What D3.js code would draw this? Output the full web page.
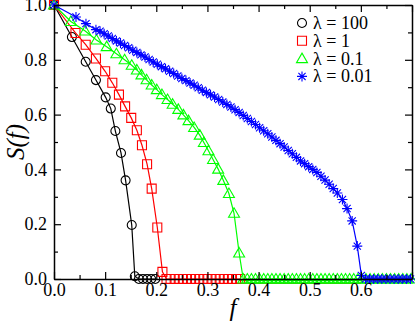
<!DOCTYPE html>
<html>
<head>
<meta charset="utf-8">
<script src="https://cdn.jsdelivr.net/npm/d3@7.9.0/dist/d3.min.js"></script>
<style>
  body { margin: 0; background: #fff; }
</style>
</head>
<body>
<svg id="chart" width="415" height="323"></svg>
<script>
// S(f) for each lambda as [f, S]
const lam100 = [[0, 1], [0.035, 0.883], [0.062, 0.793], [0.082, 0.726], [0.101, 0.663], [0.111, 0.622],
  [0.12, 0.54], [0.131, 0.46], [0.14, 0.36], [0.152, 0.197], [0.158, 0.01],
  [0.166, 0], [0.174, 0], [0.182, 0], [0.19, 0], [0.198, 0]];

const lam1 = [[0, 1], [0.042, 0.898], [0.062, 0.855], [0.082, 0.805], [0.1, 0.758], [0.114, 0.716],
  [0.127, 0.673], [0.139, 0.63], [0.151, 0.588], [0.162, 0.543], [0.172, 0.488], [0.182, 0.419],
  [0.191, 0.33], [0.202, 0.188], [0.212, 0.026],
  [0.22, 0], [0.228, 0], [0.236, 0], [0.244, 0], [0.252, 0], [0.26, 0], [0.268, 0], [0.276, 0],
  [0.284, 0], [0.292, 0], [0.3, 0], [0.308, 0], [0.316, 0], [0.324, 0], [0.332, 0], [0.34, 0],
  [0.348, 0], [0.356, 0], [0.364, 0]];

const lam01 = [[0, 1], [0.033, 0.94], [0.061, 0.905], [0.083, 0.872], [0.103, 0.848], [0.122, 0.822],
  [0.138, 0.8], [0.152, 0.78], [0.162, 0.763], [0.171, 0.745], [0.181, 0.727], [0.191, 0.708],
  [0.201, 0.691], [0.211, 0.673], [0.222, 0.655], [0.232, 0.638], [0.243, 0.619], [0.253, 0.599],
  [0.263, 0.578], [0.274, 0.553], [0.285, 0.525], [0.293, 0.498], [0.302, 0.468], [0.311, 0.436],
  [0.321, 0.401], [0.331, 0.36], [0.342, 0.312], [0.352, 0.24], [0.362, 0.095],
  [0.37, 0], [0.378, 0], [0.386, 0], [0.394, 0], [0.402, 0], [0.41, 0], [0.418, 0], [0.426, 0],
  [0.434, 0], [0.442, 0], [0.45, 0], [0.458, 0], [0.466, 0], [0.474, 0], [0.482, 0], [0.49, 0],
  [0.498, 0], [0.506, 0], [0.514, 0], [0.522, 0], [0.53, 0], [0.538, 0], [0.546, 0], [0.554, 0],
  [0.562, 0], [0.57, 0], [0.578, 0], [0.586, 0], [0.594, 0], [0.602, 0], [0.61, 0], [0.618, 0],
  [0.626, 0], [0.634, 0], [0.642, 0], [0.65, 0], [0.658, 0], [0.666, 0], [0.674, 0], [0.682, 0],
  [0.69, 0], [0.698, 0]];

const lam001 = [[0, 1], [0.043, 0.956], [0.0625, 0.932], [0.082, 0.91],
  [0.09, 0.904], [0.098, 0.895], [0.106, 0.887], [0.114, 0.878], [0.122, 0.869], [0.13, 0.861],
  [0.138, 0.852], [0.146, 0.844], [0.154, 0.835], [0.162, 0.827], [0.17, 0.818], [0.178, 0.81],
  [0.186, 0.801], [0.194, 0.792], [0.202, 0.784], [0.21, 0.775], [0.218, 0.767], [0.226, 0.758],
  [0.234, 0.75], [0.242, 0.741], [0.25, 0.732], [0.258, 0.724], [0.266, 0.715], [0.274, 0.707],
  [0.282, 0.698], [0.29, 0.689], [0.298, 0.681], [0.306, 0.672], [0.314, 0.664], [0.322, 0.655],
  [0.33, 0.646], [0.338, 0.637], [0.346, 0.628], [0.354, 0.618], [0.362, 0.608], [0.37, 0.597],
  [0.378, 0.586], [0.386, 0.575], [0.394, 0.564], [0.402, 0.552], [0.41, 0.541], [0.418, 0.53],
  [0.426, 0.518], [0.434, 0.506], [0.442, 0.494], [0.45, 0.482], [0.458, 0.469], [0.466, 0.457],
  [0.474, 0.444], [0.482, 0.431], [0.49, 0.421], [0.498, 0.41], [0.506, 0.4], [0.514, 0.389],
  [0.522, 0.375], [0.53, 0.361], [0.538, 0.346], [0.546, 0.33], [0.554, 0.314], [0.564, 0.29],
  [0.573, 0.257], [0.583, 0.212], [0.593, 0.12], [0.601, 0.013],
  [0.609, 0], [0.617, 0], [0.625, 0], [0.633, 0], [0.641, 0], [0.649, 0], [0.657, 0], [0.665, 0],
  [0.673, 0], [0.681, 0], [0.689, 0], [0.697, 0]];

// the plain lines seen just under the f axis
const lam1Tail = [[0.212, -0.016], [0.6, -0.016]];
const lam01Tail = [[0.362, -0.006], [0.6, -0.006]];

const legendLabels = ['λ = 100', 'λ = 1', 'λ = 0.1', 'λ = 0.01'];
const xMajor = [0, 0.1, 0.2, 0.3, 0.4, 0.5, 0.6, 0.7];
const xMinor = [0.05, 0.15, 0.25, 0.35, 0.45, 0.55, 0.65];
const yMajor = [0, 0.2, 0.4, 0.6, 0.8, 1.0];
const yMinor = [0.1, 0.3, 0.5, 0.7, 0.9];

const series = [
  { data: lam100, color: '#000000', shape: 'circle' },
  { data: lam1, color: '#ff0000', shape: 'square' },
  { data: lam01, color: '#00ff00', shape: 'triangle' },
  { data: lam001, color: '#0000ff', shape: 'star' },
];

const serif = "Liberation Serif, DejaVu Serif, serif";
const svg = d3.select('#chart');
const margin = { top: 5, right: 3, bottom: 44, left: 54 };
const width = 415, height = 323;
const x = d3.scaleLinear().domain([0, 0.7]).range([margin.left, width - margin.right]);
const y = d3.scaleLinear().domain([0, 1]).range([height - margin.bottom, margin.top]);

function symbolPath(shape) {
  if (shape === 'circle') return 'M4.5,0A4.5,4.5 0 1,1 -4.5,0A4.5,4.5 0 1,1 4.5,0Z';
  if (shape === 'square') return 'M-4.5,-4.5H4.5V4.5H-4.5Z';
  if (shape === 'triangle') return 'M0,-5.5L5.5,4L-5.5,4Z';
  const r = 5, d = 3.6;
  return `M0,${-r}V${r}M${-r},0H${r}M${-d},${-d}L${d},${d}M${-d},${d}L${d},${-d}`;
}

const line = d3.line().x((d) => x(d[0])).y((d) => y(d[1]));

// tails under the axis
svg.append('path').datum(lam1Tail).attr('d', line)
  .attr('fill', 'none').attr('stroke', '#ff0000').attr('stroke-width', 1.2);
svg.append('path').datum(lam01Tail).attr('d', line)
  .attr('fill', 'none').attr('stroke', '#00ff00').attr('stroke-width', 1.2);

series.forEach((s) => {
  const g = svg.append('g');
  g.append('path').datum(s.data).attr('d', line)
    .attr('fill', 'none').attr('stroke', s.color).attr('stroke-width', 1.2);
  g.selectAll('path.m').data(s.data).join('path')
    .attr('class', 'm')
    .attr('transform', (d) => `translate(${x(d[0])},${y(d[1])})`)
    .attr('d', symbolPath(s.shape))
    .attr('fill', 'none')
    .attr('stroke', s.color)
    .attr('stroke-width', 1.1);
});

// frame and ticks on all four sides
const fmt = d3.format('.1f');
const axes = [
  { ax: d3.axisBottom(x), t: `translate(0,${y(0)})`, vals: xMajor, labels: true },
  { ax: d3.axisTop(x), t: `translate(0,${y(1)})`, vals: xMajor, labels: false },
  { ax: d3.axisLeft(y), t: `translate(${x(0)},0)`, vals: yMajor, labels: true },
  { ax: d3.axisRight(y), t: `translate(${x(0.7)},0)`, vals: yMajor, labels: false },
];
axes.forEach((a, i) => {
  const minor = i < 2 ? xMinor : yMinor;
  const gMinor = svg.append('g').attr('transform', a.t)
    .call(a.ax.tickValues(minor).tickSizeInner(-4).tickSizeOuter(0).tickFormat(''));
  gMinor.select('.domain').remove();
  const gMaj = svg.append('g').attr('transform', a.t)
    .call(a.ax.tickValues(a.vals).tickSizeInner(-7).tickSizeOuter(0).tickPadding(i < 2 ? 4 : 7)
      .tickFormat(a.labels ? (d) => (d > 0.65 && i === 0 ? '' : fmt(d)) : ''));
  gMaj.attr('font-family', null).attr('font-size', null);
  gMaj.selectAll('line').attr('stroke', '#000').attr('stroke-width', 1.2);
  gMinor.selectAll('line').attr('stroke', '#000').attr('stroke-width', 1.2);
  gMaj.select('.domain').attr('stroke-width', 1.5);
  gMaj.selectAll('text').attr('fill', '#000')
    .style('font-family', serif).style('font-size', '18px');
});

// axis titles
svg.append('text')
  .attr('x', (x(0) + x(0.7)) / 2).attr('y', 316)
  .attr('text-anchor', 'middle')
  .style('font-family', serif).style('font-size', '25px').style('font-style', 'italic')
  .text('f');
svg.append('text')
  .attr('transform', `translate(24,${(y(0) + y(1)) / 2}) rotate(-90)`)
  .attr('text-anchor', 'middle')
  .style('font-family', serif).style('font-size', '25px').style('font-style', 'italic')
  .text('S(f)');

// legend
const leg = svg.append('g');
series.forEach((s, i) => {
  const cy = 23 + i * 17.8;
  leg.append('path')
    .attr('transform', `translate(302,${cy})`)
    .attr('d', symbolPath(s.shape))
    .attr('fill', 'none').attr('stroke', s.color).attr('stroke-width', 1.1);
  leg.append('text').attr('x', 313).attr('y', cy + 6)
    .style('font-family', serif).style('font-size', '18px')
    .attr('fill', '#000').text(legendLabels[i]);
});
</script>
</body>
</html>
